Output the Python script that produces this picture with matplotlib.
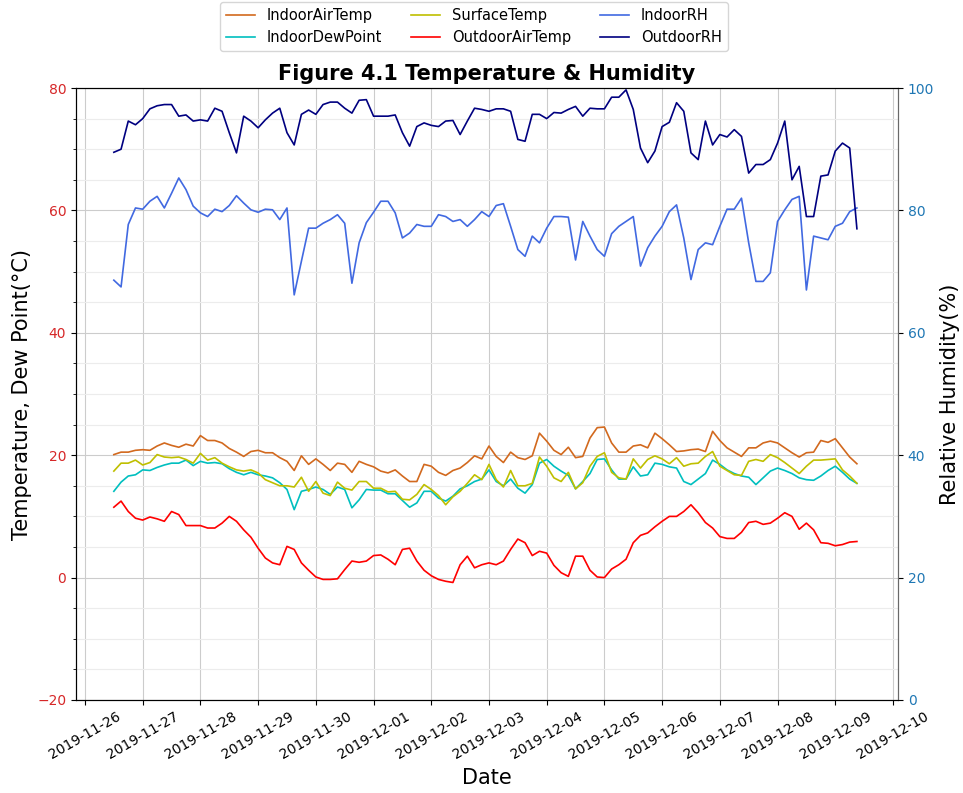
import numpy as np
import pandas as pd
import matplotlib
matplotlib.use("Agg")
import matplotlib.pyplot as plt
import matplotlib.dates as mdates
from matplotlib.ticker import MultipleLocator


# Data (3-hourly readings, 2019-11-26 12:00 -> 2019-12-09 09:00) ------------>>>>>
times = pd.date_range("2019-11-26 12:00", periods=104, freq="3h")

indoor_air_temp = [
    20.1, 20.5, 20.5, 20.8,
    20.9, 20.8, 21.5, 22.0, 21.6, 21.3, 21.8, 21.5,
    23.2, 22.4, 22.4, 22.0, 21.1, 20.5, 19.8, 20.6,
    20.8, 20.4, 20.4, 19.6, 19.0, 17.5, 19.9, 18.5,
    19.4, 18.5, 17.5, 18.7, 18.5, 17.2, 19.0, 18.5,
    18.1, 17.4, 17.1, 17.6, 16.6, 15.7, 15.7, 18.5,
    18.2, 17.2, 16.7, 17.5, 17.9, 18.8, 19.9, 19.4,
    21.5, 19.8, 18.8, 20.5, 19.6, 19.3, 19.9, 23.6,
    22.3, 20.8, 20.1, 21.3, 19.6, 19.8, 22.8, 24.5,
    24.6, 22.0, 20.5, 20.5, 21.5, 21.7, 21.2, 23.6,
    22.7, 21.7, 20.6, 20.7, 20.9, 21.0, 20.6, 23.9,
    22.4, 21.2, 20.5, 19.8, 21.2, 21.2, 22.0, 22.3,
    22.0, 21.2, 20.4, 19.7, 20.4, 20.5, 22.4, 22.1,
    22.7, 21.2, 19.7, 18.6,
]

indoor_dew_point = [
    14.1, 15.6, 16.6, 16.8,
    17.6, 17.5, 18.0, 18.4, 18.7, 18.7, 19.2, 18.3,
    19.0, 18.7, 18.8, 18.6, 17.8, 17.2, 16.8, 17.2,
    16.8, 16.6, 16.3, 15.5, 14.4, 11.1, 14.1, 14.4,
    14.8, 14.4, 13.6, 14.8, 14.4, 11.4, 12.7, 14.4,
    14.3, 14.3, 13.7, 13.7, 12.6, 11.5, 12.2, 14.1,
    14.1, 13.0, 12.5, 13.3, 14.5, 15.0, 15.7, 16.1,
    17.6, 15.7, 15.0, 16.1, 14.6, 13.8, 15.2, 18.7,
    19.3, 18.2, 17.4, 16.7, 14.5, 15.7, 17.0, 19.3,
    19.4, 17.6, 16.1, 16.1, 18.1, 16.6, 16.8, 18.7,
    18.5, 18.1, 17.9, 15.7, 15.2, 16.1, 17.0, 19.2,
    18.5, 17.6, 17.0, 16.6, 16.4, 15.2, 16.3, 17.4,
    17.9, 17.5, 17.0, 16.3, 16.0, 15.9, 16.6, 17.5,
    18.2, 17.2, 16.1, 15.4,
]

surface_temp = [
    17.4, 18.7, 18.7, 19.2,
    18.4, 18.8, 20.1, 19.7, 19.6, 19.7, 19.3, 18.7,
    20.3, 19.2, 19.6, 18.7, 18.1, 17.6, 17.4, 17.6,
    17.1, 16.0, 15.5, 15.0, 15.0, 14.8, 16.4, 14.1,
    15.7, 13.8, 13.4, 15.6, 14.6, 14.3, 15.7, 15.7,
    14.6, 14.6, 14.0, 14.1, 12.8, 12.7, 13.6, 15.2,
    14.4, 13.4, 11.9, 13.2, 14.1, 15.4, 16.8, 16.0,
    18.5, 16.0, 14.8, 17.5, 15.0, 15.0, 15.4, 19.7,
    18.2, 16.3, 15.7, 17.2, 14.5, 15.5, 18.2, 19.8,
    20.4, 17.2, 16.3, 16.1, 19.4, 17.9, 19.3, 19.9,
    19.4, 18.6, 19.6, 18.2, 18.6, 18.7, 19.8, 20.6,
    18.2, 17.5, 16.8, 16.7, 19.0, 19.3, 19.0, 20.1,
    19.6, 18.8, 17.9, 17.0, 18.2, 19.2, 19.2, 19.3,
    19.4, 17.6, 16.6, 15.4,
]

outdoor_air_temp = [
    11.5, 12.5, 10.8, 9.7,
    9.4, 9.9, 9.6, 9.2, 10.8, 10.3, 8.5, 8.5,
    8.5, 8.1, 8.1, 8.9, 10.0, 9.2, 7.8, 6.6,
    4.8, 3.2, 2.4, 2.1, 5.1, 4.6, 2.4, 1.2,
    0.1, -0.3, -0.3, -0.2, 1.3, 2.7, 2.5, 2.7,
    3.6, 3.7, 3.0, 2.1, 4.6, 4.8, 2.7, 1.2,
    0.3, -0.3, -0.6, -0.8, 2.1, 3.5, 1.6, 2.1,
    2.4, 2.1, 2.7, 4.6, 6.3, 5.7, 3.6, 4.3,
    4.0, 2.0, 0.8, 0.2, 3.5, 3.5, 1.2, 0.1,
    0.0, 1.4, 2.1, 3.0, 5.7, 6.9, 7.3, 8.3,
    9.2, 10.0, 10.0, 10.8, 11.9, 10.6, 9.0, 8.1,
    6.7, 6.4, 6.4, 7.4, 9.0, 9.2, 8.7, 8.9,
    9.7, 10.6, 10.0, 7.9, 8.9, 7.8, 5.7, 5.6,
    5.2, 5.4, 5.8, 5.9,
]

indoor_rh = [
    68.6, 67.5, 77.7, 80.4,
    80.2, 81.5, 82.3, 80.4, 82.8, 85.3, 83.4, 80.7,
    79.6, 79.0, 80.2, 79.8, 80.8, 82.4, 81.2, 80.1,
    79.7, 80.2, 80.1, 78.5, 80.4, 66.2, 71.7, 77.1,
    77.1, 77.9, 78.5, 79.3, 77.9, 68.1, 74.7, 78.0,
    79.7, 81.5, 81.5, 79.6, 75.5, 76.3, 77.7, 77.4,
    77.4, 79.3, 79.0, 78.2, 78.5, 77.4, 78.5, 79.8,
    79.0, 80.8, 81.1, 77.4, 73.6, 72.5, 75.8, 74.7,
    77.1, 79.0, 79.0, 78.9, 71.9, 78.2, 75.8, 73.6,
    72.5, 76.2, 77.4, 78.2, 79.0, 70.9, 73.9, 75.8,
    77.4, 79.8, 80.9, 75.5, 68.7, 73.6, 74.7, 74.4,
    77.4, 80.2, 80.2, 82.0, 74.7, 68.4, 68.4, 69.8,
    78.2, 80.1, 81.8, 82.3, 67.0, 75.8, 75.5, 75.2,
    77.4, 77.9, 79.8, 80.4,
]

outdoor_rh = [
    89.5, 90.0, 94.6, 94.0,
    95.0, 96.6, 97.1, 97.3, 97.3, 95.4, 95.6, 94.6,
    94.8, 94.6, 96.7, 96.2, 92.7, 89.4, 95.4, 94.6,
    93.5, 94.8, 95.9, 96.7, 92.7, 90.7, 95.7, 96.4,
    95.7, 97.3, 97.7, 97.7, 96.7, 95.9, 98.0, 98.1,
    95.4, 95.4, 95.4, 95.6, 92.7, 90.5, 93.7, 94.3,
    93.9, 93.7, 94.6, 94.7, 92.4, 94.6, 96.7, 96.5,
    96.2, 96.6, 96.6, 96.2, 91.6, 91.3, 95.7, 95.7,
    95.0, 96.0, 95.9, 96.5, 97.0, 95.4, 96.7, 96.6,
    96.6, 98.5, 98.5, 99.7, 96.5, 90.2, 87.8, 89.7,
    93.7, 94.4, 97.6, 96.2, 89.4, 88.3, 94.6, 90.7,
    92.4, 92.0, 93.2, 92.1, 86.1, 87.5, 87.5, 88.3,
    91.0, 94.6, 85.0, 87.2, 79.0, 79.0, 85.6, 85.8,
    89.7, 91.0, 90.2, 77.0,
]


# Figura ----------------------------->>>>>
fig = plt.figure(figsize=(9.63, 7.93), dpi=100)
ax1 = fig.add_axes([0.0789, 0.1173, 0.8536, 0.7717])
ax2 = ax1.twinx()

l1, = ax1.plot(times, indoor_air_temp, color="chocolate", lw=1.2, label="IndoorAirTemp")
l2, = ax1.plot(times, indoor_dew_point, color="c", lw=1.2, label="IndoorDewPoint")
l3, = ax1.plot(times, surface_temp, color="y", lw=1.2, label="SurfaceTemp")
l4, = ax1.plot(times, outdoor_air_temp, color="red", lw=1.2, label="OutdoorAirTemp")
l5, = ax2.plot(times, indoor_rh, color="royalblue", lw=1.2, label="IndoorRH")
l6, = ax2.plot(times, outdoor_rh, color="navy", lw=1.2, label="OutdoorRH")

# Eixos:
day = pd.Timedelta(days=1)
ax1.set_xlim(pd.Timestamp("2019-11-26") - 0.156 * day, pd.Timestamp("2019-12-10") + 0.087 * day)
ax1.xaxis.set_major_locator(mdates.DayLocator())
ax1.xaxis.set_major_formatter(mdates.DateFormatter("%Y-%m-%d"))
for lab in ax1.get_xticklabels():
    lab.set_rotation(30)

ax1.set_ylim(-20, 80)
ax1.yaxis.set_major_locator(MultipleLocator(20))
ax1.yaxis.set_minor_locator(MultipleLocator(5))
ax1.tick_params(axis="y", labelcolor="tab:red", labelsize=10)
ax1.tick_params(axis="x", labelsize=10)

ax2.set_ylim(0, 100)
ax2.yaxis.set_major_locator(MultipleLocator(20))
ax2.tick_params(axis="y", labelcolor="tab:blue", labelsize=10)
ax2.spines["right"].set_color("dimgray")
ax1.spines["right"].set_color("dimgray")

# Grade:
ax1.grid(which="major", color="#cccccc", lw=0.8)
ax1.grid(which="minor", axis="y", color="#ececec", lw=0.8)

# Textos:
ax1.set_title("Figure 4.1 Temperature & Humidity", fontsize=15, fontweight="bold")
ax1.set_xlabel("Date", fontsize=15)
ax1.set_ylabel("Temperature, Dew Point(°C)", fontsize=15)
ax2.set_ylabel("Relative Humidity(%)", fontsize=15)

# Legenda:
fig.legend(handles=[l1, l2, l3, l4, l5, l6], loc="upper center", ncol=3,
           bbox_to_anchor=(0.492, 0.9975), borderaxespad=0, fontsize=10.5)

fig.savefig("out.png", dpi=100)
